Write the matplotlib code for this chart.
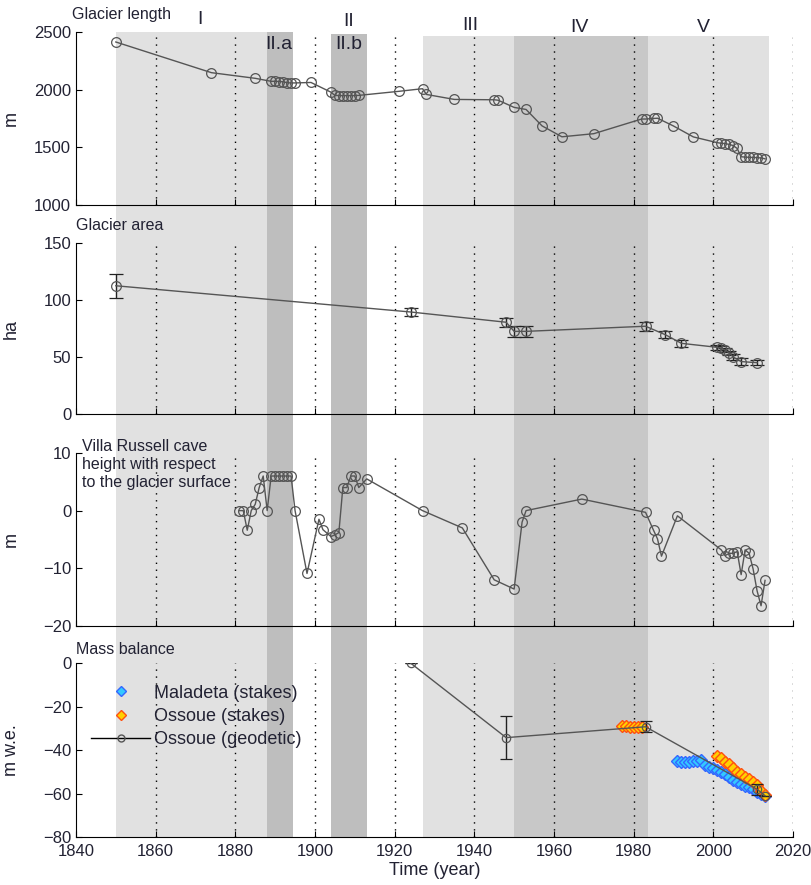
#!/usr/bin/env python3

"""Ossoue glacier: length, area, Villa Russell cave height and mass balance."""

import matplotlib.pyplot as plt
from matplotlib.lines import Line2D
from matplotlib.transforms import blended_transform_factory

plt.rcParams['font.family'] = ['Liberation Sans', 'DejaVu Sans']

# glacier length (m)
length_year = [1850, 1874, 1885, 1889, 1890, 1891, 1892, 1893, 1894, 1895, 1899,
               1904, 1905, 1906, 1907, 1908, 1909, 1910, 1911, 1921, 1927, 1928,
               1935, 1945, 1946, 1950, 1953, 1957, 1962, 1970, 1982, 1983, 1985,
               1986, 1990, 1995, 2001, 2002, 2003, 2004, 2005, 2006, 2007, 2008,
               2009, 2010, 2011, 2012, 2013]
length_m = [2413, 2147, 2098, 2072, 2072, 2070, 2068, 2060, 2058, 2058, 2062,
            1978, 1950, 1948, 1948, 1948, 1948, 1948, 1950, 1985, 2008, 1958,
            1915, 1912, 1908, 1846, 1828, 1686, 1591, 1618, 1745, 1745, 1750,
            1752, 1685, 1590, 1540, 1535, 1532, 1525, 1515, 1490, 1418, 1415,
            1413, 1412, 1410, 1408, 1400]

# glacier area (ha)
area_year = [1850, 1924, 1948, 1950, 1953, 1983, 1988, 1992, 2001, 2002, 2003,
             2004, 2005, 2007, 2011]
area_ha = [112.5, 89.5, 80.5, 72.5, 72.5, 77, 69.5, 62, 58.5, 57.8, 56,
           53.7, 50, 46, 45]
area_err = [10.5, 3.5, 4, 5, 5, 4, 3, 3, 2, 2, 2, 2, 3, 3, 2]

# Villa Russell cave height with respect to the glacier surface (m)
cave_year = [1881, 1882, 1883, 1884, 1885, 1886, 1887, 1888, 1889, 1890, 1891,
             1892, 1893, 1894, 1895, 1898, 1901, 1902, 1904, 1905, 1906, 1907,
             1908, 1909, 1910, 1911, 1913, 1927, 1937, 1945, 1950, 1952, 1953,
             1967, 1983, 1985, 1986, 1987, 1991, 2002, 2003, 2004, 2005, 2006,
             2007, 2008, 2009, 2010, 2011, 2012, 2013]
cave_m = [0, 0, -3.4, 0, 1.1, 4, 6, 0, 6, 6, 6,
          6, 6, 6, 0, -10.9, -1.5, -3.3, -4.5, -4.2, -3.8, 4,
          4, 6, 6, 4, 5.5, 0, -3, -12, -13.6, -2, 0,
          2, -0.3, -3.4, -4.9, -7.9, -0.9, -6.8, -7.8, -7.4, -7.4, -7.1,
          -11.1, -6.8, -7.4, -10.1, -13.9, -16.5, -12.1]

# mass balance (m w.e.)
geo_year = [1924, 1948, 1983, 2011, 2013]
geo_mwe = [0, -34.3, -29.3, -58, -61]
geo_err = [0, 10, 2.5, 2.5, 0]

maladeta_year = list(range(1991, 2014))
maladeta_mwe = [-45, -45.5, -45.5, -45.5, -45, -45, -44.5, -46.8, -47.6, -48.4,
                -49, -50, -51, -52.6, -53.8, -54.9, -55.6, -56.4, -57, -58,
                -59.3, -60, -61]

ossoue_year = [1977, 1978, 1979, 1980, 1981, 1982] + list(range(2001, 2014))
ossoue_mwe = [-29, -29, -29.5, -29.5, -29.5, -29.5,
              -42.6, -43.5, -45.4, -46.4, -48.4, -50, -51.2, -52.3, -53.5,
              -54.6, -56.2, -58.8, -60.8]

# shaded periods
periods = [(1850, 1888, '#e1e1e1', 1.0), (1888, 1894.5, '#bebebe', 1.0),
           (1904, 1913, '#bebebe', 0.997), (1927, 1950, '#e1e1e1', 0.995),
           (1950, 1983.5, '#c8c8c8', 0.995), (1983.5, 2014, '#e1e1e1', 0.995)]
period_labels = ['I', 'II', 'III', 'IV', 'V', 'II.a', 'II.b']
period_label_x = [1871, 1908.5, 1939, 1966.5, 1997.5, 1891, 1908.5]
period_label_y = [0.978, 0.976, 0.971, 0.969, 0.969, 0.950, 0.950]

txt = '#222233'
line_c = '#555555'

fig = plt.figure(figsize=(8.11, 8.85), dpi=100)
left, width = 0.0937, 0.884

bg = fig.add_axes([left, 0.0542, width, 0.9096], zorder=0)
bg.set_xlim(1840, 2020)
bg.set_ylim(0, 1)
bg.axis('off')
for x0, x1, c, top in periods:
    bg.axvspan(x0, x1, ymin=0, ymax=top, color=c, lw=0)

trans = blended_transform_factory(bg.transData, fig.transFigure)
for lab, x, y in zip(period_labels, period_label_x, period_label_y):
    fig.text(x, y, lab, transform=trans, ha='center', va='center',
             fontsize=14, color=txt)

rects = [[left, 0.7684, width, 0.1955],
         [left, 0.5322, width, 0.1932],
         [left, 0.2927, width, 0.1955],
         [left, 0.0542, width, 0.1966]]
axes = [fig.add_axes(r, zorder=1) for r in rects]

for ax in axes:
    ax.set_facecolor('none')
    ax.set_xlim(1840, 2020)
    ax.spines['top'].set_visible(False)
    ax.spines['right'].set_visible(False)
    ax.tick_params(direction='in', labelsize=12, colors='k', labelcolor=txt,
                   length=4)
    ax.tick_params(axis='x', pad=5)
    ax.set_xticks(range(1840, 2021, 20))
    for yr in range(1860, 2021, 20):
        ax.axvline(yr, color='k', ls=(0, (1, 4)), lw=1, zorder=1)

for ax in axes[:3]:
    ax.tick_params(labelbottom=False)

mk = dict(marker='o', mfc='none', mec=line_c, ms=7, mew=0.9, color=line_c,
          lw=1, zorder=3)

# glacier length
ax = axes[0]
ax.plot(length_year, length_m, **mk)
ax.set_ylim(1000, 2500)
ax.set_yticks([1000, 1500, 2000, 2500])
ax.set_ylabel('m', fontsize=13, color=txt)
ax.text(-0.005, 1.1, 'Glacier length', transform=ax.transAxes, fontsize=11.5,
        color=txt, va='center')

# glacier area
ax = axes[1]
ax.errorbar(area_year, area_ha, yerr=area_err, capsize=5, ecolor='#222222',
            elinewidth=1, capthick=1, **mk)
ax.set_ylim(0, 150)
ax.set_yticks([0, 50, 100, 150])
ax.set_ylabel('ha', fontsize=13, color=txt)
ax.text(0.0, 1.1, 'Glacier area', transform=ax.transAxes, fontsize=11.5,
        color=txt, va='center')

# cave height
ax = axes[2]
ax.plot(cave_year, cave_m, **mk)
ax.set_ylim(-20, 10)
ax.set_yticks([-20, -10, 0, 10])
ax.set_ylabel('m', fontsize=13, color=txt)
ax.text(0.008, 1.08, 'Villa Russell cave\nheight with respect\nto the glacier surface',
        transform=ax.transAxes, fontsize=11.5, color=txt, va='top',
        linespacing=1.25)

# mass balance
ax = axes[3]
ax.plot(maladeta_year, maladeta_mwe, ls='none', marker='D', ms=6,
        mfc='#33c8ff', mec='#3366ff', mew=1, zorder=2)
ax.plot(ossoue_year, ossoue_mwe, ls='none', marker='D', ms=6,
        mfc='#ffd000', mec='#ff5010', mew=1, zorder=2)
ax.errorbar(geo_year, geo_mwe, yerr=geo_err, capsize=4, ecolor='#222222',
            elinewidth=1, capthick=1, **dict(mk, ms=6))
ax.set_ylim(-80, 0)
ax.set_yticks([-80, -60, -40, -20, 0])
ax.set_ylabel('m w.e.', fontsize=13, color=txt)
ax.set_xlabel('Time (year)', fontsize=13, color=txt, labelpad=2)
ax.text(0.0, 1.08, 'Mass balance', transform=ax.transAxes, fontsize=11.5,
        color=txt, va='center')

for ax in axes:
    ax.yaxis.set_label_coords(-0.078, 0.5)

handles = [Line2D([], [], ls='none', marker='D', ms=5, mfc='#33c8ff',
                  mec='#3366ff'),
           Line2D([], [], ls='none', marker='D', ms=5, mfc='#ffd000',
                  mec='#ff5010'),
           Line2D([], [], color='k', lw=1, marker='o', mfc='none',
                  mec=line_c, ms=5)]
ax.legend(handles, ['Maladeta (stakes)', 'Ossoue (stakes)', 'Ossoue (geodetic)'],
          loc='upper left', bbox_to_anchor=(-0.002, 0.97), frameon=False,
          fontsize=13, handlelength=3.3, handletextpad=0.2, labelspacing=0.35,
          labelcolor=txt)

fig.savefig('out.png', dpi=100)
